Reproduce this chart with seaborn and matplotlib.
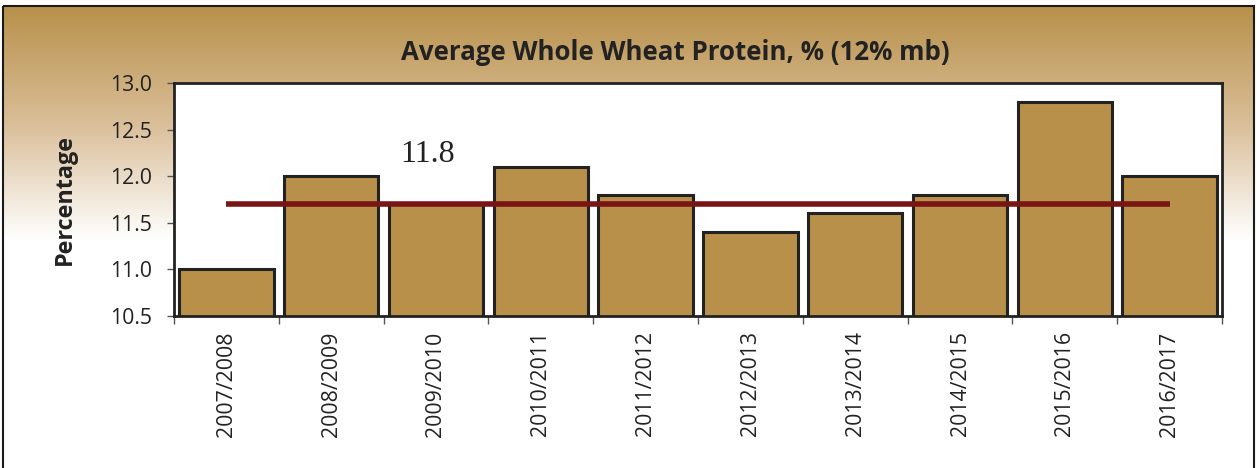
import numpy as np
import pandas as pd
import seaborn as sns
import matplotlib.pyplot as plt
from matplotlib.patches import Rectangle
from matplotlib.colors import LinearSegmentedColormap

# data
seasons = ['2007/2008', '2008/2009', '2009/2010', '2010/2011', '2011/2012',
           '2012/2013', '2013/2014', '2014/2015', '2015/2016', '2016/2017']
protein = [11.0, 12.0, 11.7, 12.1, 11.8, 11.4, 11.6, 11.8, 12.8, 12.0]
average_line = 11.7
average_label = '11.8'

sns.set_theme(style='white')
plt.rcParams['font.family'] = ['Open Sans', 'DejaVu Sans']

df = pd.DataFrame({'Season': seasons, 'Protein': protein})

W, H = 1257, 468
fig = plt.figure(figsize=(W / 100, H / 100), dpi=100)

# gradient background with a thin frame
bg = fig.add_axes([0, 0, 1, 1], zorder=-10)
bg.set_xlim(0, W)
bg.set_ylim(H, 0)
bg.axis('off')
cmap = LinearSegmentedColormap.from_list('tan', ['#B8904A', '#D9BE98', '#FFFFFF'])
grad = np.linspace(0, 1, 256).reshape(-1, 1)
bg.imshow(grad, cmap=cmap, extent=(3, 1254, 240, 6), aspect='auto')
bg.add_patch(Rectangle((3, 6), 1251, 480, fill=False, edgecolor='#1a1a1a', lw=1.5))

ax = fig.add_axes([174 / W, 1 - 316 / H, (1222 - 174) / W, (316 - 83) / H])
ax.set_facecolor('white')
sns.barplot(data=df, x='Season', y='Protein', color='#B8904A', saturation=1,
            width=0.9, edgecolor='#222222', linewidth=2.2, ax=ax, zorder=2)

ax.plot([0, len(seasons) - 1], [average_line, average_line],
        color='#7A1515', lw=4, zorder=3, solid_capstyle='butt')
ax.text(2 - 0.34, 12.0 + 0.08, average_label, family='Liberation Serif',
        fontsize=23, color='#222222', va='bottom', ha='left')

ax.set_ylim(10.5, 13.0)
ax.set_xlim(-0.5, len(seasons) - 0.5)
ax.set_yticks(np.arange(10.5, 13.01, 0.5))
ax.set_yticklabels([f'{v:.1f}' for v in np.arange(10.5, 13.01, 0.5)])
ax.set_xticks(np.arange(-0.5, len(seasons), 1.0), minor=True)
ax.tick_params(axis='x', which='major', length=0, labelrotation=90, labelsize=15.3,
               pad=11, colors='#222222')
ax.tick_params(axis='x', which='minor', length=6, width=1, color='#555555', direction='out', bottom=True)
ax.tick_params(axis='y', length=5, width=1, color='#555555', direction='out', left=True,
               labelsize=15.3, labelcolor='#222222', pad=10.5)
for s in ax.spines.values():
    s.set_color('#222222')
    s.set_linewidth(2)

ax.set_xlabel('')
ax.set_ylabel('Percentage', fontsize=16.8, fontweight='bold', color='#222222', labelpad=24)
fig.text(675 / W, 1 - 52 / H, 'Average Whole Wheat Protein, % (12% mb)',
         ha='center', va='center', fontsize=18.6, fontweight='bold', color='#222222')

fig.savefig('out.png', dpi=100)
